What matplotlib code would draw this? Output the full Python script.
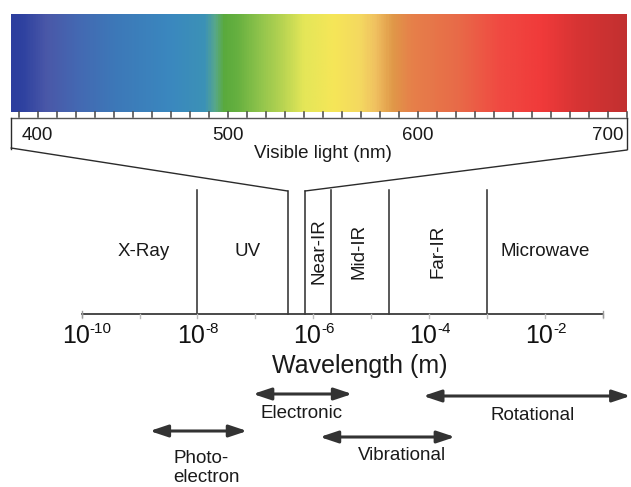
import numpy as np
import matplotlib
matplotlib.use("Agg")
import matplotlib.pyplot as plt
from matplotlib.colors import LinearSegmentedColormap
from matplotlib.patches import ConnectionPatch
from matplotlib.transforms import offset_copy

plt.rcParams["font.family"] = ["Liberation Sans", "DejaVu Sans"]

# ---- visible spectrum (nm) ----
vis_range = (386, 710)
vis_stops_nm = [386, 392, 404, 420, 440, 470, 488, 493, 498, 505, 517, 529,
                540, 556, 570, 578, 587, 597, 622, 643, 666, 684, 710]
vis_stops_col = ["#2c3e9e", "#2f42a0", "#4a58a8", "#4468b2", "#3d78b8",
                 "#3a88bf", "#3c92b6", "#58a88a", "#5aaa3c", "#66b040",
                 "#90c44c", "#b8d452", "#e4e658", "#f6e658", "#f4d860",
                 "#f0c060", "#e09848", "#e6804a", "#e86a48", "#f04a42",
                 "#f03a3a", "#d83434", "#c23030"]
vis_labels_nm = [400, 500, 600, 700]
vis_title = "Visible light (nm)"

# ---- electromagnetic regions (m) ----
region_bounds = [1e-8, 3.6e-7, 7.2e-7, 2e-6, 2e-5, 1e-3]
region_names = ["X-Ray", "UV", "Near-IR", "Mid-IR", "Far-IR", "Microwave"]
region_label_x = [1.2e-9, 7.2e-8, 1.26e-6, 6.2e-6, 1.43e-4, 1.0e-2]
region_rotated = [False, False, True, True, True, False]
axis_span = (1e-10, 1e-1)
tick_exponents = [-10, -8, -6, -4, -2]

# ---- spectroscopy ranges (m) ----
proc_names = ["Electronic", "Rotational", "Photo-\nelectron", "Vibrational"]
proc_lo = [9.1e-8, 7.9e-5, 1.5e-9, 1.3e-6]
proc_hi = [4.7e-6, 3.0e-1, 7.2e-8, 2.8e-4]
proc_label_x = [6.4e-7, 6.2e-3, 3.8e-9, 3.4e-5]

INK = "#2b2b2b"
TXT = "#1a1a1a"
W, H = 631, 487
fig = plt.figure(figsize=(W / 100, H / 100), dpi=100)

# main log-wavelength axes, y in pixel units
axA = fig.add_axes([0, 0, 1, 1])
axA.set_xscale("log")
axA.set_xlim(10 ** -11.41, 10 ** -0.513)
axA.set_ylim(H, 0)
axA.axis("off")

# visible-light inset axes
x0, x1, y0, y1 = 11, 627, 14, 160
axB = fig.add_axes([x0 / W, 1 - y1 / H, (x1 - x0) / W, (y1 - y0) / H])
axB.set_xlim(*vis_range)
axB.set_ylim(y1, y0)
axB.axis("off")

span = vis_range[1] - vis_range[0]
cmap = LinearSegmentedColormap.from_list(
    "vis", [((n - vis_range[0]) / span, c) for n, c in zip(vis_stops_nm, vis_stops_col)])
axB.imshow(np.linspace(0, 1, 800)[None, :], cmap=cmap, aspect="auto",
           extent=(vis_range[0], vis_range[1], 112, 14), interpolation="bilinear")

# ruler strip under the spectrum
axB.plot(vis_range, [118, 118], color="#555555", lw=1.0, clip_on=False)
for t in np.arange(390, 711, 10):
    axB.plot([t, t], [112, 117], color="#444444", lw=1.1, clip_on=False)
for xe in vis_range:
    axB.plot([xe, xe], [118, 149], color=INK, lw=1.0, clip_on=False)
for n in vis_labels_nm:
    axB.text(n, 136, str(n), fontsize=13.5, ha="center", va="center", color=TXT)
axB.text(550, 153, vis_title, fontsize=13.5, ha="center", va="center", color=TXT)

# funnel from the visible band down to the main scale
for (xv, yv), xw in [((vis_range[0], 148), region_bounds[1]),
                     ((vis_range[1], 150), region_bounds[2])]:
    con = ConnectionPatch(xyA=(xv, yv), coordsA=axB.transData,
                          xyB=(xw, 191), coordsB=axA.transData,
                          color=INK, lw=1.0)
    fig.add_artist(con)

# region boundaries
for b in region_bounds:
    top = 191 if b in (region_bounds[1], region_bounds[2]) else 190
    axA.plot([b, b], [top, 314], color=INK, lw=1.1)

for name, xl, rot in zip(region_names, region_label_x, region_rotated):
    axA.text(xl, 251, name, fontsize=13.5, ha="center", va="center",
             rotation=90 if rot else 0, color=TXT)

# wavelength axis
axA.plot(axis_span, [314, 314], color="#3a3a3a", lw=1.3)
for e in range(-10, 0):
    axA.plot([10.0 ** e] * 2, [314, 318], color="#bdbdbd", lw=1.0)
for xe in axis_span:
    axA.plot([xe, xe], [311, 317], color="#9a9a9a", lw=1.0)

base_tr = offset_copy(axA.transData, fig=fig, x=8, y=0, units="dots")
exp_tr = offset_copy(axA.transData, fig=fig, x=8, y=7, units="dots")
for e in tick_exponents:
    axA.text(10.0 ** e, 336, "10", fontsize=18, ha="right", va="center",
             color="#111111", transform=base_tr)
    axA.text(10.0 ** e, 336, str(e), fontsize=11, ha="left", va="center",
             color="#111111", transform=exp_tr)

fig.text(360 / W, 1 - 366 / H, "Wavelength (m)", fontsize=18,
         ha="center", va="center", color=TXT)

# spectroscopy ranges
arrow_y = [394, 396, 431, 437]
label_y = [414, 415, 468, 455]
for name, lo, hi, lx, ay, ly in zip(proc_names, proc_lo, proc_hi, proc_label_x,
                                    arrow_y, label_y):
    axA.annotate("", xy=(hi, ay), xytext=(lo, ay),
                 arrowprops=dict(arrowstyle="<|-|>,head_length=0.9,head_width=0.3",
                                 color="#333333", lw=2.2, shrinkA=0, shrinkB=0,
                                 mutation_scale=12))
    if "\n" in name:
        axA.text(lx, ly, name, fontsize=13.5, ha="left", va="center",
                 linespacing=1.2, color=TXT)
    else:
        axA.text(lx, ly, name, fontsize=13.5, ha="center", va="center", color=TXT)

fig.savefig("out.png", dpi=100, facecolor="white")
